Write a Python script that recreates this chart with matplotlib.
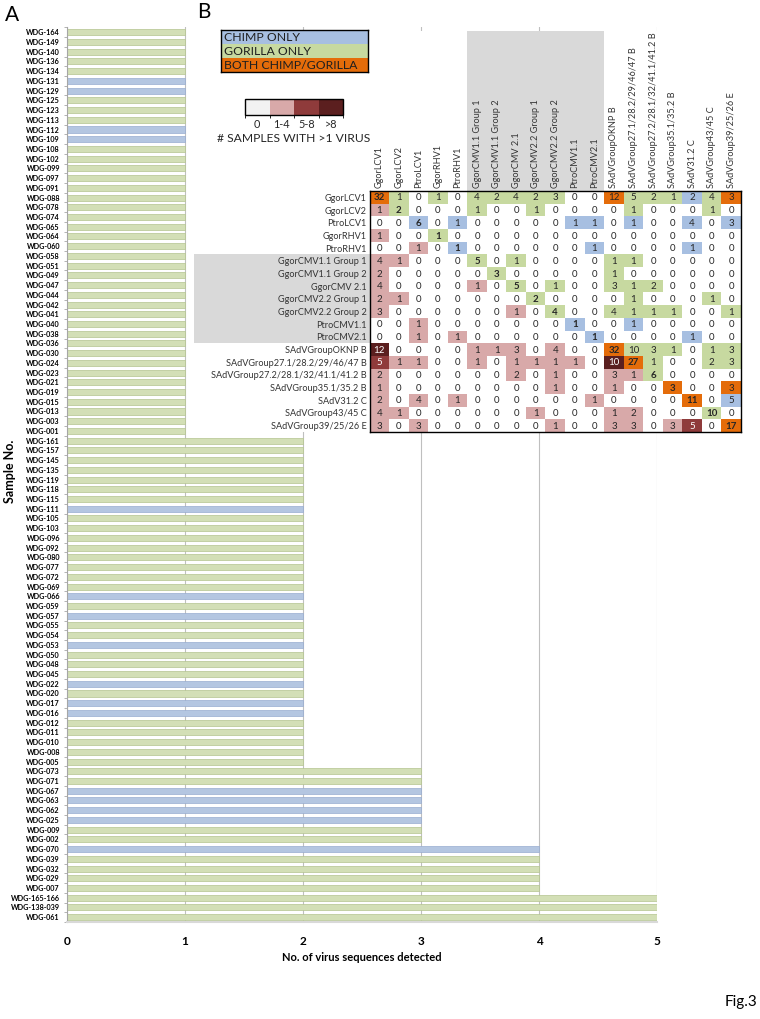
import numpy as np
import matplotlib
matplotlib.use('Agg')
import matplotlib.pyplot as plt
from matplotlib.colors import ListedColormap, BoundaryNorm
from matplotlib.cm import ScalarMappable
from matplotlib.patches import Rectangle

plt.rcParams['font.family'] = ['Lato', 'DejaVu Sans']

# ---- panel A data: samples grouped by number of virus sequences ----
group_1 = ['WDG-164', 'WDG-149', 'WDG-140', 'WDG-136', 'WDG-134', 'WDG-131', 'WDG-129',
           'WDG-125', 'WDG-123', 'WDG-113', 'WDG-112', 'WDG-109', 'WDG-108', 'WDG-102',
           'WDG-099', 'WDG-097', 'WDG-091', 'WDG-088', 'WDG-078', 'WDG-074', 'WDG-065',
           'WDG-064', 'WDG-060', 'WDG-058', 'WDG-051', 'WDG-049', 'WDG-047', 'WDG-044',
           'WDG-042', 'WDG-041', 'WDG-040', 'WDG-038', 'WDG-036', 'WDG-030', 'WDG-024',
           'WDG-023', 'WDG-021', 'WDG-019', 'WDG-015', 'WDG-013', 'WDG-003', 'WDG-001']
group_2 = ['WDG-161', 'WDG-157', 'WDG-145', 'WDG-135', 'WDG-119', 'WDG-118', 'WDG-115',
           'WDG-111', 'WDG-105', 'WDG-103', 'WDG-096', 'WDG-092', 'WDG-080', 'WDG-077',
           'WDG-072', 'WDG-069', 'WDG-066', 'WDG-059', 'WDG-057', 'WDG-055', 'WDG-054',
           'WDG-053', 'WDG-050', 'WDG-048', 'WDG-045', 'WDG-022', 'WDG-020', 'WDG-017',
           'WDG-016', 'WDG-012', 'WDG-011', 'WDG-010', 'WDG-008', 'WDG-005']
group_3 = ['WDG-073', 'WDG-071', 'WDG-067', 'WDG-063', 'WDG-062', 'WDG-025', 'WDG-009', 'WDG-002']
group_4 = ['WDG-070', 'WDG-039', 'WDG-032', 'WDG-029', 'WDG-007']
group_5 = ['WDG-165-166', 'WDG-138-039', 'WDG-061']

chimp_samples = ['WDG-131', 'WDG-129', 'WDG-112', 'WDG-109', 'WDG-111', 'WDG-066', 'WDG-057',
                 'WDG-053', 'WDG-022', 'WDG-017', 'WDG-016', 'WDG-067', 'WDG-063', 'WDG-062',
                 'WDG-025', 'WDG-070']

sample_ids = group_1 + group_2 + group_3 + group_4 + group_5
n_detected = [1] * len(group_1) + [2] * len(group_2) + [3] * len(group_3) + \
             [4] * len(group_4) + [5] * len(group_5)

# ---- panel B data: co-detection matrix ----
viruses = ['GgorLCV1', 'GgorLCV2', 'PtroLCV1', 'GgorRHV1', 'PtroRHV1',
           'GgorCMV1.1 Group 1', 'GgorCMV1.1 Group 2', 'GgorCMV 2.1',
           'GgorCMV2.2 Group 1', 'GgorCMV2.2 Group 2', 'PtroCMV1.1', 'PtroCMV2.1',
           'SAdVGroupOKNP B', 'SAdVGroup27.1/28.2/29/46/47 B',
           'SAdVGroup27.2/28.1/32/41.1/41.2 B', 'SAdVGroup35.1/35.2 B',
           'SAdV31.2 C', 'SAdVGroup43/45 C', 'SAdVGroup39/25/26 E']

counts = [
    [32, 1, 0, 1, 0, 4, 2, 4, 2, 3, 0, 0, 12, 5, 2, 1, 2, 4, 3],
    [1, 2, 0, 0, 0, 1, 0, 0, 1, 0, 0, 0, 0, 1, 0, 0, 0, 1, 0],
    [0, 0, 6, 0, 1, 0, 0, 0, 0, 0, 1, 1, 0, 1, 0, 0, 4, 0, 3],
    [1, 0, 0, 1, 0, 0, 0, 0, 0, 0, 0, 0, 0, 0, 0, 0, 0, 0, 0],
    [0, 0, 1, 0, 1, 0, 0, 0, 0, 0, 0, 1, 0, 0, 0, 0, 1, 0, 0],
    [4, 1, 0, 0, 0, 5, 0, 1, 0, 0, 0, 0, 1, 1, 0, 0, 0, 0, 0],
    [2, 0, 0, 0, 0, 0, 3, 0, 0, 0, 0, 0, 1, 0, 0, 0, 0, 0, 0],
    [4, 0, 0, 0, 0, 1, 0, 5, 0, 1, 0, 0, 3, 1, 2, 0, 0, 0, 0],
    [2, 1, 0, 0, 0, 0, 0, 0, 2, 0, 0, 0, 0, 1, 0, 0, 0, 1, 0],
    [3, 0, 0, 0, 0, 0, 0, 1, 0, 4, 0, 0, 4, 1, 1, 1, 0, 0, 1],
    [0, 0, 1, 0, 0, 0, 0, 0, 0, 0, 1, 0, 0, 1, 0, 0, 0, 0, 0],
    [0, 0, 1, 0, 1, 0, 0, 0, 0, 0, 0, 1, 0, 0, 0, 0, 1, 0, 0],
    [12, 0, 0, 0, 0, 1, 1, 3, 0, 4, 0, 0, 32, 10, 3, 1, 0, 1, 3],
    [5, 1, 1, 0, 0, 1, 0, 1, 1, 1, 1, 0, 10, 27, 1, 0, 0, 2, 3],
    [2, 0, 0, 0, 0, 0, 0, 2, 0, 1, 0, 0, 3, 1, 6, 0, 0, 0, 0],
    [1, 0, 0, 0, 0, 0, 0, 0, 0, 1, 0, 0, 1, 0, 0, 3, 0, 0, 3],
    [2, 0, 4, 0, 1, 0, 0, 0, 0, 0, 0, 1, 0, 0, 0, 0, 11, 0, 5],
    [4, 1, 0, 0, 0, 0, 0, 0, 1, 0, 0, 0, 1, 2, 0, 0, 0, 10, 0],
    [3, 0, 3, 0, 0, 0, 0, 0, 0, 1, 0, 0, 3, 3, 0, 3, 5, 0, 17],
]

# host of upper-triangle cells: C = chimp only, G = gorilla only, B = both
hosts = [
    "BG.G.GGGGG..BGGGCGB",
    ".G...G..G....G...G.",
    "..C.C.....CC.C..C.C",
    "...G...............",
    "....C......C....C..",
    ".....G.G....GG.....",
    "......G.....G......",
    ".......G.G..GGG....",
    "........G....G...G.",
    ".........G..GGGG..G",
    "..........C..C.....",
    "...........C....C..",
    "............BGGG.GG",
    ".............BG..GG",
    "..............G....",
    "...............B..B",
    "................B.C",
    ".................G.",
    "..................B",
]
cmv_rows = range(5, 12)

legend_labels = ['CHIMP ONLY', 'GORILLA ONLY', 'BOTH CHIMP/GORILLA']
scale_labels = ['0', '1-4', '5-8', '>8']

# ---- styling ----
W, H = 760, 1019
bar_green, bar_blue = '#d3dfb6', '#b4c6e1'
pink1, pink2, pink3 = '#d8a9a9', '#8f3b3b', '#5b1f1f'
c_blue, c_green, c_orange = '#a7bfe1', '#c7d9a0', '#e46c0a'
band_gray = '#d9d9d9'


def box(x0, y0, x1, y1):
    return [x0 / W, 1 - y1 / H, (x1 - x0) / W, (y1 - y0) / H]


fig = plt.figure(figsize=(W / 100, H / 100), dpi=100)

# ================= panel A =================
ax = fig.add_axes(box(67, 27.4, 657, 922))
y = np.arange(len(sample_ids))
colors = [bar_blue if s in chimp_samples else bar_green for s in sample_ids]
edges = ['#97acd0' if s in chimp_samples else '#b4c48e' for s in sample_ids]
ax.barh(y, n_detected, height=0.62, color=colors, edgecolor=edges, linewidth=0.5, zorder=2)
ax.set_ylim(len(sample_ids) - 0.5, -0.5)
ax.set_xlim(0, 5)
ax.set_yticks(y)
ax.set_yticklabels(sample_ids, fontsize=5.2, fontweight='bold')
ax.set_yticks(np.arange(len(sample_ids) + 1) - 0.5, minor=True)
ax.tick_params(axis='y', which='major', length=0, pad=5)
ax.tick_params(axis='y', which='minor', length=2, color='#a6a6a6', width=0.6)
ax.set_xticks(range(6))
ax.set_xticklabels([str(i) for i in range(6)], fontsize=8.5, fontweight='bold')
ax.tick_params(axis='x', length=0, pad=10)
ax.set_xlabel('No. of virus sequences detected', fontsize=8, fontweight='bold', labelpad=4)
ax.grid(axis='x', color='#bfbfbf', linewidth=0.8, zorder=0)
for s in ['top', 'right']:
    ax.spines[s].set_visible(False)
ax.spines['left'].set_color('#a6a6a6')
ax.spines['bottom'].set_color('#d9d9d9')
ax.spines['bottom'].set_linewidth(1.5)
fig.text(10 / W, 1 - 471 / H, 'Sample No.', rotation=90, fontsize=9, fontweight='bold',
         ha='center', va='center')

# ================= panel B =================
ax_bg = fig.add_axes(box(190, 31, W, 432), zorder=3)
ax_bg.set_xticks([])
ax_bg.set_yticks([])
for s in ax_bg.spines.values():
    s.set_visible(False)
ax_bg.set_facecolor('white')

# heatmap categories
mat = np.array(counts)
cat = np.zeros_like(mat)
host_code = {'C': 4, 'G': 5, 'B': 6}
for i in range(len(viruses)):
    for j in range(len(viruses)):
        h = hosts[i][j]
        v = mat[i, j]
        if h != '.':
            cat[i, j] = host_code[h]
        elif v == 0:
            cat[i, j] = 0
        elif v <= 4:
            cat[i, j] = 1
        elif v <= 8:
            cat[i, j] = 2
        else:
            cat[i, j] = 3

cell_cmap = ListedColormap(['#ffffff', pink1, pink2, pink3, c_blue, c_green, c_orange])
cell_norm = BoundaryNorm(np.arange(-0.5, 7.5), cell_cmap.N)

ax2 = fig.add_axes(box(369.5, 191, 741, 432), zorder=4)
n = len(viruses)
ax2.pcolormesh(np.arange(n + 1) - 0.5, np.arange(n + 1) - 0.5, cat,
               cmap=cell_cmap, norm=cell_norm)
ax2.set_xlim(-0.5, n - 0.5)
ax2.set_ylim(n - 0.5, -0.5)
for i in range(n):
    for j in range(n):
        ax2.text(j, i + 0.05, str(mat[i, j]), ha='center', va='center', fontsize=7,
                 fontweight='bold' if i == j else 'normal',
                 color='white' if cat[i, j] in (2, 3) else '#262626')

ax2.xaxis.tick_top()
ax2.set_xticks(range(n))
ax2.set_xticklabels(viruses, rotation=90, fontsize=6.6, color='#333333')
ax2.set_yticks(range(n))
ax2.set_yticklabels(viruses, fontsize=6.6, color='#333333')
ax2.tick_params(length=0, pad=2)
for s in ax2.spines.values():
    s.set_color('black')
    s.set_linewidth(1.0)

# gray bands behind the CMV labels
cell_w = (741 - 369.5) / n
cell_h = (432 - 191) / n
left_ext = (369.5 - 194) / cell_w
top_ext = (191 - 31) / cell_h
ax2.add_patch(Rectangle((-0.5 - left_ext, cmv_rows[0] - 0.5), left_ext, len(cmv_rows),
                        color=band_gray, clip_on=False, zorder=0, lw=0))
ax2.add_patch(Rectangle((cmv_rows[0] - 0.5, -0.5 - top_ext), len(cmv_rows), top_ext,
                        color=band_gray, clip_on=False, zorder=0, lw=0))

# host legend
lax = fig.add_axes(box(221, 30, 368, 72), zorder=5)
lax.barh(range(3), [1, 1, 1], height=1, color=[c_blue, c_green, c_orange])
for k, lab in enumerate(legend_labels):
    lax.text(0.02, k + 0.05, lab, va='center', ha='left', fontsize=8.8, color='#1f1f1f')
lax.set_xlim(0, 1)
lax.set_ylim(2.5, -0.5)
lax.set_xticks([])
lax.set_yticks([])
for s in lax.spines.values():
    s.set_color('black')
    s.set_linewidth(1.0)

# count scale
cax = fig.add_axes(box(245, 99, 343, 115), zorder=5)
scale_cmap = ListedColormap(['#f2f2f2', pink1, pink2, pink3])
scale_norm = BoundaryNorm([0, 1, 2, 3, 4], 4)
cb = fig.colorbar(ScalarMappable(norm=scale_norm, cmap=scale_cmap), cax=cax,
                  orientation='horizontal')
cb.set_ticks([0.5, 1.5, 2.5, 3.5])
cb.set_ticklabels(scale_labels)
cax.tick_params(length=0, pad=3, labelsize=7.8, labelcolor='#262626')
cb.outline.set_linewidth(1.0)
cax.set_xlabel('# SAMPLES WITH >1 VIRUS', fontsize=8.7, labelpad=2, color='#262626')

# panel letters and figure tag
fig.text(5 / W, 1 - 15 / H, 'A', fontsize=15, va='center', ha='left')
fig.text(197 / W, 1 - 12 / H, 'B', fontsize=15, va='center', ha='left')
fig.text(757 / W, 1 - 1002 / H, 'Fig.3', fontsize=11, va='center', ha='right')

fig.savefig('out.png', dpi=100)
